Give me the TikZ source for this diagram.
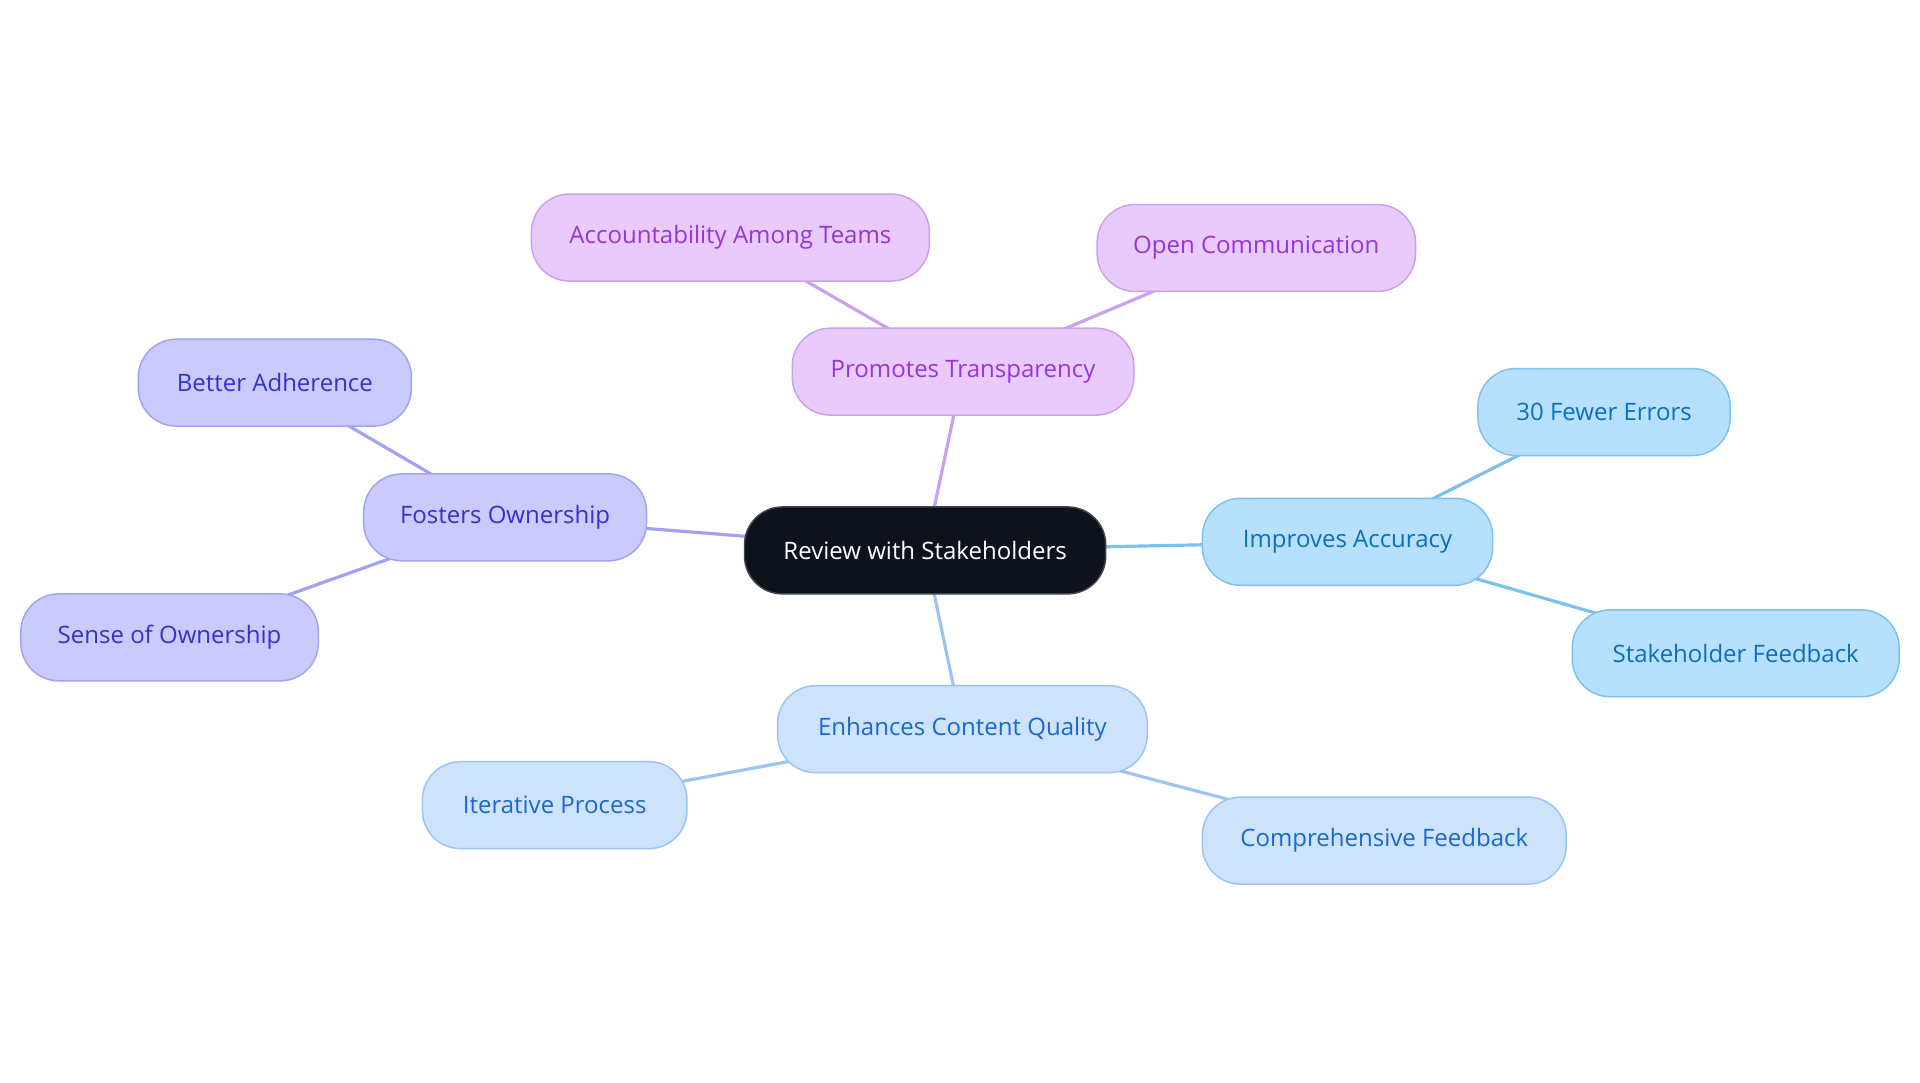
\documentclass[tikz,border=0pt]{standalone}
\usepackage{fontspec}
\setmainfont{Open Sans}
\usetikzlibrary{shapes}
\usetikzlibrary{backgrounds}

\definecolor{rootfill}{HTML}{0D121B}
\definecolor{rootline}{HTML}{3F4450}
\definecolor{purfill}{HTML}{E8CAFD}
\definecolor{purline}{HTML}{C9A0F2}
\definecolor{purtext}{HTML}{9634DE}
\definecolor{indfill}{HTML}{CACBFC}
\definecolor{indline}{HTML}{A1A2F2}
\definecolor{indtext}{HTML}{3530CF}
\definecolor{skyfill}{HTML}{B6E0FE}
\definecolor{skyline}{HTML}{7CC0F0}
\definecolor{skytext}{HTML}{0B6FBF}
\definecolor{blufill}{HTML}{CDE3FB}
\definecolor{bluline}{HTML}{9CC3F2}
\definecolor{blutext}{HTML}{1B68CE}

\begin{document}
\begin{tikzpicture}[x=0.5pt, y=-0.5pt,
  box/.style={rectangle, rounded corners=15.5pt, minimum height=35.5pt, inner sep=0pt, line width=0.6pt, font=\fontsize{9.8}{12}\selectfont},
  root/.style={box, fill=rootfill, draw=rootline, text=white},
  pur/.style={box, fill=purfill, draw=purline, text=purtext},
  ind/.style={box, fill=indfill, draw=indline, text=indtext},
  sky/.style={box, fill=skyfill, draw=skyline, text=skytext},
  blu/.style={box, fill=blufill, draw=bluline, text=blutext},
  link/.style={line width=1.3pt}]

\useasboundingbox (0, 0) rectangle (1568, 884);

%Draw nodes
\node[root, minimum width=147.5pt] (review) at (755.5, 449.5) {Review with Stakeholders};

\node[pur, minimum width=139.5pt] (transp) at (786.5, 303.5) {Promotes Transparency};
\node[pur, minimum width=162.5pt] (account) at (596.5, 194) {Accountability Among Teams};
\node[pur, minimum width=130pt] (opencom) at (1026, 202.5) {Open Communication};

\node[ind, minimum width=115.5pt] (fosters) at (412.5, 422.5) {Fosters Ownership};
\node[ind, minimum width=111.5pt] (adher) at (224.5, 312.5) {Better Adherence};
\node[ind, minimum width=121.5pt] (sense) at (138.5, 520.5) {Sense of Ownership};

\node[sky, minimum width=118.5pt] (accur) at (1100.5, 442.5) {Improves Accuracy};
\node[sky, minimum width=103pt] (errors) at (1310, 336.5) {30 Fewer Errors};
\node[sky, minimum width=133.5pt] (stake) at (1417.5, 533.5) {Stakeholder Feedback};

\node[blu, minimum width=151pt] (quality) at (786, 595.5) {Enhances Content Quality};
\node[blu, minimum width=108pt] (iter) at (453, 657.5) {Iterative Process};
\node[blu, minimum width=148.5pt] (compre) at (1130.5, 686.5) {Comprehensive Feedback};

%Draw links
\begin{scope}[on background layer]
\draw[link, purline] (review.center) -- (transp.center);
\draw[link, purline] (transp.center) -- (account.center);
\draw[link, purline] (transp.center) -- (opencom.center);

\draw[link, indline] (review.center) -- (fosters.center);
\draw[link, indline] (fosters.center) -- (adher.center);
\draw[link, indline] (fosters.center) -- (sense.center);

\draw[link, skyline] (review.center) -- (accur.center);
\draw[link, skyline] (accur.center) -- (errors.center);
\draw[link, skyline] (accur.center) -- (stake.center);

\draw[link, bluline] (review.center) -- (quality.center);
\draw[link, bluline] (quality.center) -- (iter.center);
\draw[link, bluline] (quality.center) -- (compre.center);
\end{scope}

\end{tikzpicture}
\end{document}
